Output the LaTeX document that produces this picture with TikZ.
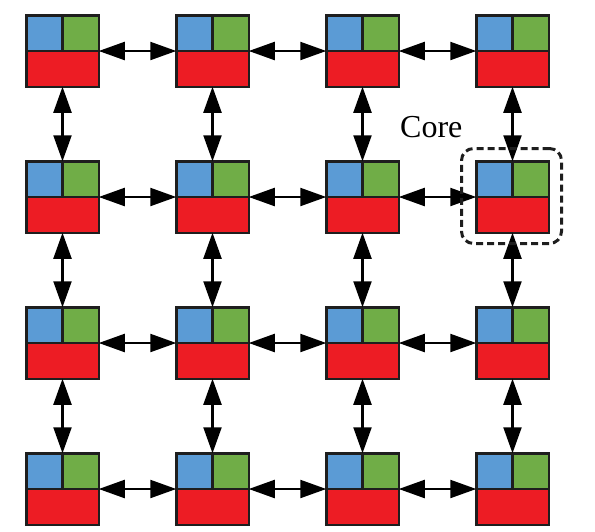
\documentclass[tikz,border=0pt]{standalone}
\usepackage{fontspec}
\setmainfont{Liberation Serif}
\usetikzlibrary{arrows.meta}
\definecolor{coreblue}{RGB}{91,155,213}
\definecolor{coregreen}{RGB}{112,173,71}
\definecolor{corered}{RGB}{237,28,36}
\definecolor{coreline}{RGB}{30,30,30}
\tikzset{
  corebox/.style={draw=coreline, line width=2.5pt, minimum width=72.5pt, minimum height=71.5pt,
    inner sep=0pt, outer sep=0pt,
    path picture={
      \fill[coreblue] (path picture bounding box.north west) rectangle (path picture bounding box.center);
      \fill[coregreen] (path picture bounding box.north) rectangle (path picture bounding box.east);
      \fill[corered] (path picture bounding box.west) rectangle (path picture bounding box.south east);
      \draw[coreline, line width=2.5pt] (path picture bounding box.west) -- (path picture bounding box.east);
      \draw[coreline, line width=2.5pt] (path picture bounding box.north) -- (path picture bounding box.center);
    }},
  link/.style={line width=2.2pt, {Triangle[length=26pt,width=18pt]}-{Triangle[length=26pt,width=18pt]}},
  selbox/.style={draw=coreline, line width=3pt, dash pattern=on 7pt off 4pt, rounded corners=12pt,
    minimum width=100pt, minimum height=95pt, inner sep=0pt},
  lbl/.style={font=\fontsize{32}{36}\selectfont, inner sep=0pt, anchor=base west}
}
\begin{document}
\begin{tikzpicture}[x=1pt,y=1pt]
\useasboundingbox (0,0) rectangle (595,-531);
\foreach \i in {1,...,4}{
  \foreach \j in {1,...,4}{
    \node[corebox] (c-\i-\j) at ({62.5+150*(\j-1)},{-(51+146*(\i-1))}) {};
  }
}
\foreach \i in {1,...,4}{
  \foreach \j/\k in {1/2,2/3,3/4}{
    \draw[link] (c-\i-\j.east) -- (c-\i-\k.west);
  }
}
\foreach \j in {1,...,4}{
  \foreach \i/\k in {1/2,2/3,3/4}{
    \draw[link] (c-\i-\j.south) -- (c-\k-\j.north);
  }
}
\node[selbox] (sel) at ([xshift=-1pt,yshift=1pt]c-2-4.center) {};
\node[lbl] (corelabel) at (400,-137) {Core};
\end{tikzpicture}
\end{document}
